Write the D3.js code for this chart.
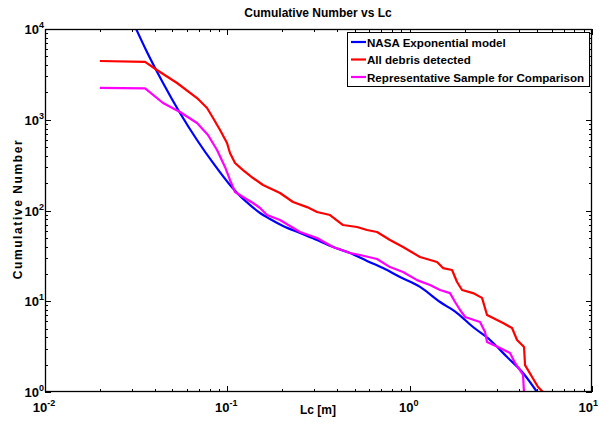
<!DOCTYPE html>
<html>
<head>
<meta charset="utf-8">
<script src="https://d3js.org/d3.v7.min.js"></script>
<style>
  body { margin: 0; background: #fff; }
  text { font-family: "Liberation Sans", Arial, sans-serif; font-weight: bold; fill: #000; }
</style>
</head>
<body>
<svg id="chart" width="599" height="431"></svg>
<script>
// ---- data (Lc in metres, cumulative number) ----
const seriesNames = ["NASA Exponential model", "All debris detected", "Representative Sample for Comparison"];
const seriesColors = ["#0000ff", "#ff0000", "#ff00ff"];

const nasaLc = [0.0316, 0.0358, 0.0444, 0.0550, 0.0682, 0.0835, 0.1034, 0.1174, 0.1332, 0.1511, 0.1714, 0.2021, 0.2504, 0.3105, 0.3800, 0.4709, 0.5837, 0.7143, 0.8855, 1.140, 1.468, 1.819, 2.226, 2.760, 3.420, 4.186, 4.995];
const nasaN  = [10000, 5869, 2541, 1187, 598, 334, 191, 144.4, 115.0, 93.9, 80.6, 67.5, 56.5, 47.3, 39.6, 34.0, 27.8, 23.2, 18.5, 14.4, 9.81, 7.42, 5.20, 3.74, 2.43, 1.62, 1.0];

const allLc = [0.02, 0.0354, 0.0411, 0.0530, 0.0682, 0.0774, 0.0835, 0.0912, 0.0996, 0.1034, 0.1102, 0.1219, 0.1383, 0.1569, 0.1945, 0.2292, 0.2736, 0.3105, 0.3658, 0.4311, 0.5144, 0.5837, 0.6622, 0.7804, 0.9197, 1.140, 1.413, 1.524, 1.708, 1.819, 1.938, 2.226, 2.494, 2.657, 3.252, 3.643, 3.881, 4.239, 4.293, 5.059, 5.389];
const allN  = [4440, 4350, 3532, 2541, 1736, 1347, 1045, 771, 554, 430, 334, 279, 228, 191, 156, 124, 109, 96.2, 89.2, 69.2, 65.8, 61.0, 57.9, 47.3, 39.6, 30.7, 27.1, 23.2, 22.1, 16.3, 13.3, 12.3, 10.9, 7.05, 5.76, 5.07, 3.74, 3.13, 1.98, 1.135, 1.0];

const repLc = [0.02, 0.0354, 0.0444, 0.0550, 0.0682, 0.0783, 0.0878, 0.0971, 0.1034, 0.1102, 0.1219, 0.1383, 0.1511, 0.1651, 0.1945, 0.2504, 0.3105, 0.3800, 0.4709, 0.5345, 0.6622, 0.7804, 0.9197, 1.098, 1.293, 1.468, 1.665, 1.774, 1.889, 2.013, 2.432, 2.591, 2.657, 3.131, 3.552, 3.784, 4.186, 4.239];
const repN  = [2240, 2220, 1530, 1217, 921, 679, 464, 302, 217, 160, 141, 121, 106.5, 89.2, 78.6, 57.9, 49.8, 39.6, 34.0, 32.3, 29.2, 23.8, 21.0, 17.1, 15.1, 13.3, 12.3, 9.81, 8.01, 6.71, 5.91, 4.58, 3.56, 3.05, 2.69, 2.09, 1.54, 0.98];

const xTickExps = [-2, -1, 0, 1];
const yTickExps = [0, 1, 2, 3, 4];

const titleText = "Cumulative Number vs Lc";
const xLabelText = "Lc [m]";
const yLabelText = "Cumulative Number";

// ---- layout ----
const svg = d3.select("#chart");
const L = 45, R = 592, T = 29, B = 392;

const x = d3.scaleLog().domain([0.01, 10]).range([L, R]);
const y = d3.scaleLog().domain([1, 10000]).range([B, T]);

svg.append("rect").attr("width", 599).attr("height", 431).attr("fill", "#fff");

svg.append("defs").append("clipPath").attr("id", "plotclip")
  .append("rect").attr("x", L).attr("y", T).attr("width", R - L).attr("height", B - T);

// ticks (inward, all four sides)
const minorX = [], minorY = [];
for (let e = -2; e < 1; e++) for (let m = 2; m <= 9; m++) minorX.push(m * Math.pow(10, e));
for (let e = 0; e < 4; e++) for (let m = 2; m <= 9; m++) minorY.push(m * Math.pow(10, e));
const majorX = xTickExps.map(e => Math.pow(10, e));
const majorY = yTickExps.map(e => Math.pow(10, e));

const tg = svg.append("g").attr("stroke", "#000").attr("stroke-width", 1);
function xt(vals, len) {
  vals.forEach(v => {
    const px = Math.round(x(v)) + 0.5;
    tg.append("line").attr("x1", px).attr("x2", px).attr("y1", B).attr("y2", B - len);
    tg.append("line").attr("x1", px).attr("x2", px).attr("y1", T).attr("y2", T + len);
  });
}
function yt(vals, len) {
  vals.forEach(v => {
    const py = Math.round(y(v)) + 0.5;
    tg.append("line").attr("y1", py).attr("y2", py).attr("x1", L).attr("x2", L + len);
    tg.append("line").attr("y1", py).attr("y2", py).attr("x1", R).attr("x2", R - len);
  });
}
xt(minorX, 3); xt(majorX, 6);
yt(minorY, 3); yt(majorY, 6);

// curves
const line = d3.line().x(d => x(d[0])).y(d => y(d[1]));
const smooth = d3.line().x(d => x(d[0])).y(d => y(d[1])).curve(d3.curveMonotoneX);
const plot = svg.append("g").attr("clip-path", "url(#plotclip)");
const series = [
  { lc: nasaLc, n: nasaN, gen: smooth },
  { lc: allLc, n: allN, gen: line },
  { lc: repLc, n: repN, gen: line }
];
series.forEach((s, i) => {
  plot.append("path")
    .attr("d", s.gen(s.lc.map((v, j) => [v, s.n[j]])))
    .attr("fill", "none").attr("stroke", seriesColors[i])
    .attr("stroke-width", 2.2).attr("stroke-linejoin", "round");
});

// frame
svg.append("rect").attr("x", L + 0.5).attr("y", T + 0.5).attr("width", R - L - 1).attr("height", B - T - 1)
  .attr("fill", "none").attr("stroke", "#000").attr("stroke-width", 1.3);

// tick labels
xTickExps.forEach((e, i) => {
  const last = i === xTickExps.length - 1;
  const t = svg.append("text").attr("x", last ? 598 : x(Math.pow(10, e)) - 1).attr("y", 412)
    .attr("text-anchor", last ? "end" : "middle").attr("font-size", 13);
  t.append("tspan").text("10");
  t.append("tspan").attr("dy", -6).attr("font-size", 9).text(e < 0 ? "-" + (-e) : String(e));
});
yTickExps.forEach(e => {
  const t = svg.append("text").attr("x", 44).attr("y", y(Math.pow(10, e)) + 5)
    .attr("text-anchor", "end").attr("font-size", 13);
  t.append("tspan").text("10");
  t.append("tspan").attr("dy", -6).attr("font-size", 9).text(String(e));
});

// title & labels
svg.append("text").attr("x", 318).attr("y", 17).attr("text-anchor", "middle").attr("font-size", 12).text(titleText);
svg.append("text").attr("x", 318).attr("y", 414).attr("text-anchor", "middle").attr("font-size", 12).text(xLabelText);
svg.append("text").attr("transform", "translate(22,209) rotate(-90)").attr("text-anchor", "middle")
  .attr("font-size", 12).attr("letter-spacing", 1.6).text(yLabelText);

// legend
const lg = svg.append("g");
lg.append("rect").attr("x", 347.5).attr("y", 32.5).attr("width", 242).attr("height", 54)
  .attr("fill", "#fff").attr("stroke", "#000").attr("stroke-width", 1);
seriesNames.forEach((name, i) => {
  const cy = 42 + i * 17.5;
  lg.append("line").attr("x1", 351).attr("x2", 366).attr("y1", cy).attr("y2", cy)
    .attr("stroke", seriesColors[i]).attr("stroke-width", 2.2);
  lg.append("text").attr("x", 367).attr("y", cy + 4.5).attr("font-size", 11.6).text(name);
});
</script>
</body>
</html>
